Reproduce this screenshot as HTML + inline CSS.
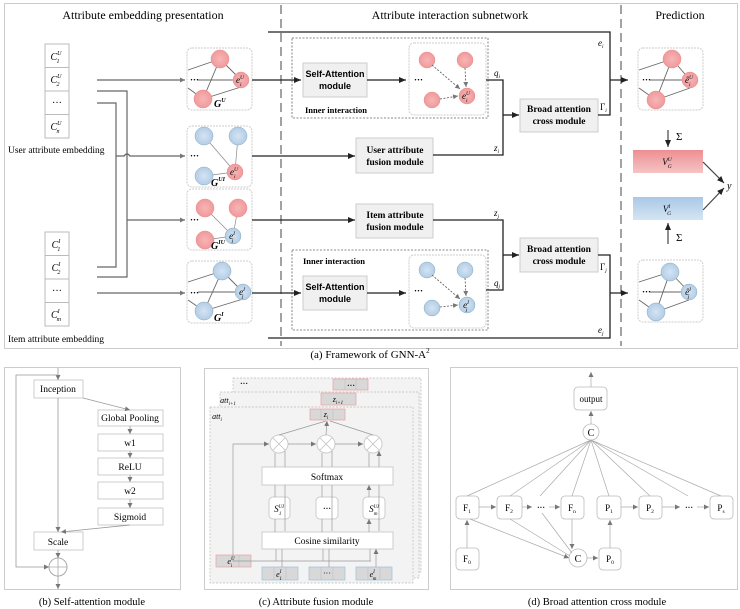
<!DOCTYPE html>
<html><head><meta charset="utf-8"><style>
html,body{margin:0;padding:0;background:#fff}
svg{display:block;font-family:"Liberation Serif",serif}
.s{font-family:"Liberation Sans",sans-serif;font-weight:bold}
.b{font-weight:bold}
</style></head><body>
<svg width="740" height="609" viewBox="0 0 740 609" xmlns="http://www.w3.org/2000/svg">
<defs>
<marker id="a" markerWidth="8" markerHeight="8" refX="7" refY="4" orient="auto" markerUnits="userSpaceOnUse"><path d="M0,1 L7,4 L0,7 z" fill="#222"/></marker>
<marker id="g" markerWidth="6" markerHeight="6" refX="5" refY="3" orient="auto" markerUnits="userSpaceOnUse"><path d="M0,0.5 L5,3 L0,5.5 z" fill="#777"/></marker>
<linearGradient id="rg" x1="0" y1="0" x2="0" y2="1"><stop offset="0" stop-color="#ee8f92"/><stop offset="1" stop-color="#f6c4c4"/></linearGradient>
<linearGradient id="bg" x1="0" y1="0" x2="0" y2="1"><stop offset="0" stop-color="#a9c8e6"/><stop offset="1" stop-color="#d4e5f3"/></linearGradient>
<radialGradient id="rc"><stop offset="0" stop-color="#f7b5b5"/><stop offset="1" stop-color="#ef9a9c"/></radialGradient>
<radialGradient id="bc"><stop offset="0" stop-color="#d4e4f3"/><stop offset="1" stop-color="#b3cde6"/></radialGradient>
</defs>

<rect x="4.5" y="3.5" width="733" height="345" fill="none" stroke="#ccc"/>
<line x1="281" y1="5" x2="281" y2="346" stroke="#444" stroke-dasharray="9,5"/>
<line x1="621" y1="5" x2="621" y2="346" stroke="#444" stroke-dasharray="9,5"/>
<text x="143" y="19" font-size="12" text-anchor="middle">Attribute embedding presentation</text>
<text x="450" y="19" font-size="12" text-anchor="middle">Attribute interaction subnetwork</text>
<text x="680" y="19" font-size="12" text-anchor="middle">Prediction</text>

<g fill="#fff" stroke="#bbb">
<rect x="45" y="44" width="24" height="23.5"/><rect x="45" y="67.5" width="24" height="23.5"/><rect x="45" y="91" width="24" height="23.5"/><rect x="45" y="114.5" width="24" height="23.5"/>
<rect x="45" y="232" width="24" height="23.5"/><rect x="45" y="255.5" width="24" height="23.5"/><rect x="45" y="279" width="24" height="23.5"/><rect x="45" y="302.5" width="24" height="23.5"/>
</g>
<g font-size="10" font-style="italic" text-anchor="middle">
<text x="56" y="60">C<tspan font-size="6" dy="-5">U</tspan><tspan font-size="6" dx="-5" dy="8">1</tspan></text>
<text x="56" y="83">C<tspan font-size="6" dy="-5">U</tspan><tspan font-size="6" dx="-5" dy="8">2</tspan></text>
<text x="57" y="106" font-style="normal">···</text>
<text x="56" y="130">C<tspan font-size="6" dy="-5">U</tspan><tspan font-size="6" dx="-5" dy="8">n</tspan></text>
<text x="56" y="248">C<tspan font-size="6" dy="-5">I</tspan><tspan font-size="6" dx="-3" dy="8">1</tspan></text>
<text x="56" y="271">C<tspan font-size="6" dy="-5">I</tspan><tspan font-size="6" dx="-3" dy="8">2</tspan></text>
<text x="57" y="294" font-style="normal">···</text>
<text x="56" y="318">C<tspan font-size="6" dy="-5">I</tspan><tspan font-size="6" dx="-3" dy="8">m</tspan></text>
</g>
<text x="8" y="153" font-size="9.5">User attribute embedding</text>
<text x="8" y="342" font-size="9.5">Item attribute embedding</text>

<g stroke="#666" stroke-width="1.2" fill="none">
<line x1="97" y1="80" x2="185" y2="80" marker-end="url(#g)"/>
<line x1="97" y1="293" x2="185" y2="293" marker-end="url(#g)"/>
<polyline points="97,91 127,91 127,277 97,277"/>
<polyline points="97,103 116,103 116,267 97,267"/>
<path d="M116,156 L124,156 Q127,152 130,156 L185,156" marker-end="url(#g)"/>
<line x1="127" y1="220" x2="185" y2="220" marker-end="url(#g)"/>
</g>

<g fill="#fff" stroke="#ccc" stroke-dasharray="2,1">
<rect x="187" y="48" width="65" height="62" rx="5"/>
<rect x="187" y="126" width="65" height="61" rx="5"/>
<rect x="187" y="189" width="65" height="61" rx="5"/>
<rect x="187" y="261" width="65" height="62" rx="5"/>
<rect x="409" y="43" width="77" height="72" rx="5"/>
<rect x="409" y="255" width="77" height="73" rx="5"/>
<rect x="638" y="48" width="65" height="62" rx="5"/>
<rect x="638" y="260" width="65" height="62" rx="5"/>
</g>
<g stroke="#666" stroke-width="0.9">
<line x1="188" y1="70" x2="220" y2="59"/><line x1="220" y1="59" x2="241" y2="80"/><line x1="220" y1="59" x2="203" y2="99"/><line x1="203" y1="99" x2="241" y2="87"/><line x1="188" y1="88" x2="203" y2="99"/><line x1="198" y1="80" x2="241" y2="80"/>
<line x1="188" y1="282" x2="222" y2="271"/><line x1="222" y1="271" x2="243" y2="292"/><line x1="222" y1="271" x2="204" y2="311"/><line x1="204" y1="311" x2="243" y2="299"/><line x1="188" y1="300" x2="204" y2="311"/><line x1="198" y1="292" x2="243" y2="292"/>
<line x1="639" y1="70" x2="672" y2="59"/><line x1="672" y1="59" x2="690" y2="80"/><line x1="672" y1="59" x2="656" y2="100"/><line x1="656" y1="100" x2="690" y2="88"/><line x1="639" y1="88" x2="656" y2="100"/><line x1="650" y1="80" x2="690" y2="80"/>
<line x1="639" y1="282" x2="670" y2="272"/><line x1="670" y1="272" x2="689" y2="292"/><line x1="670" y1="272" x2="656" y2="312"/><line x1="656" y1="312" x2="689" y2="300"/><line x1="639" y1="300" x2="656" y2="312"/><line x1="650" y1="292" x2="689" y2="292"/>
</g>
<g stroke="#888" stroke-width="0.7">
<line x1="204" y1="136" x2="235" y2="172"/><line x1="238" y1="136" x2="235" y2="172"/><line x1="204" y1="176" x2="235" y2="172"/>
<line x1="205" y1="208" x2="233" y2="236"/><line x1="238" y1="208" x2="233" y2="236"/><line x1="205" y1="240" x2="233" y2="236"/>
</g>
<g stroke="#e88" stroke-width="0.5" fill="url(#rc)">
<circle cx="220" cy="59" r="9"/><circle cx="203" cy="99" r="9"/><circle cx="241" cy="80" r="8"/>
<circle cx="235" cy="172" r="8"/>
<circle cx="205" cy="208" r="9"/><circle cx="238" cy="208" r="9"/><circle cx="205" cy="240" r="9"/>
<circle cx="427" cy="60" r="8"/><circle cx="465" cy="60" r="8"/><circle cx="432" cy="100" r="8"/><circle cx="467" cy="96" r="8"/>
<circle cx="672" cy="59" r="9"/><circle cx="656" cy="100" r="9"/><circle cx="690" cy="80" r="8"/>
</g>
<g stroke="#8ab" stroke-width="0.5" fill="url(#bc)">
<circle cx="204" cy="136" r="9"/><circle cx="238" cy="136" r="9"/><circle cx="204" cy="176" r="9"/>
<circle cx="233" cy="236" r="8"/>
<circle cx="222" cy="271" r="9"/><circle cx="204" cy="311" r="9"/><circle cx="243" cy="292" r="8"/>
<circle cx="427" cy="270" r="8"/><circle cx="465" cy="270" r="8"/><circle cx="432" cy="308" r="8"/><circle cx="467" cy="305" r="8"/>
<circle cx="670" cy="272" r="9"/><circle cx="656" cy="312" r="9"/><circle cx="689" cy="292" r="8"/>
</g>
<g stroke="#555" stroke-width="0.8" stroke-dasharray="2,1.5" fill="none">
<line x1="432" y1="65" x2="460" y2="89" marker-end="url(#g)"/><line x1="465" y1="68" x2="466" y2="87" marker-end="url(#g)"/><line x1="440" y1="99" x2="458" y2="96" marker-end="url(#g)"/>
<line x1="432" y1="275" x2="460" y2="299" marker-end="url(#g)"/><line x1="465" y1="278" x2="466" y2="296" marker-end="url(#g)"/><line x1="440" y1="307" x2="458" y2="305" marker-end="url(#g)"/>
</g>
<g font-size="9" font-weight="bold">
<text x="190" y="83">···</text><text x="190" y="159">···</text><text x="190" y="223">···</text><text x="190" y="296">···</text>
<text x="414" y="83">···</text><text x="414" y="294">···</text><text x="642" y="83">···</text><text x="642" y="295">···</text>
</g>
<g font-size="9" font-style="italic" text-anchor="middle">
<text x="240" y="83">e<tspan font-size="5.5" dy="-4">U</tspan><tspan font-size="5.5" dx="-4" dy="7">i</tspan></text>
<text x="234" y="175">e<tspan font-size="5.5" dy="-4">U</tspan><tspan font-size="5.5" dx="-4" dy="7">i</tspan></text>
<text x="232" y="239">e<tspan font-size="5.5" dy="-4">I</tspan><tspan font-size="5.5" dx="-3" dy="7">j</tspan></text>
<text x="242" y="295">e<tspan font-size="5.5" dy="-4">I</tspan><tspan font-size="5.5" dx="-3" dy="7">j</tspan></text>
<text x="466" y="99">e<tspan font-size="5.5" dy="-4">U</tspan><tspan font-size="5.5" dx="-4" dy="7">i</tspan></text>
<text x="466" y="308">e<tspan font-size="5.5" dy="-4">I</tspan><tspan font-size="5.5" dx="-3" dy="7">j</tspan></text>
<text x="689" y="83">ê<tspan font-size="5.5" dy="-4">U</tspan><tspan font-size="5.5" dx="-4" dy="7">i</tspan></text>
<text x="688" y="295">ê<tspan font-size="5.5" dy="-4">I</tspan><tspan font-size="5.5" dx="-3" dy="7">j</tspan></text>
</g>
<g font-size="10" font-style="italic" font-weight="bold">
<text x="214" y="107">G<tspan font-size="6" dy="-5">U</tspan></text>
<text x="211" y="186">G<tspan font-size="6" dy="-5">UI</tspan></text>
<text x="211" y="249">G<tspan font-size="6" dy="-5">IU</tspan></text>
<text x="214" y="321">G<tspan font-size="6" dy="-5">I</tspan></text>
</g>

<rect x="292" y="38" width="196" height="80" fill="none" stroke="#666" stroke-dasharray="2,1.5" stroke-width="0.8"/>
<rect x="292" y="250" width="196" height="80" fill="none" stroke="#666" stroke-dasharray="2,1.5" stroke-width="0.8"/>
<text x="305" y="113" font-size="8.5" class="b">Inner interaction</text>
<text x="303" y="264" font-size="8.5" class="b">Inner interaction</text>
<g fill="#f0f0f0" stroke="#ccc">
<rect x="303" y="63" width="64" height="34"/><rect x="303" y="276" width="64" height="34"/>
<rect x="356" y="138" width="77" height="35"/><rect x="356" y="204" width="77" height="34"/>
<rect x="520" y="99" width="78" height="33"/><rect x="520" y="238" width="78" height="34"/>
</g>
<g font-size="9" text-anchor="middle" class="s">
<text x="335" y="77">Self-Attention</text><text x="335" y="89">module</text>
<text x="335" y="290">Self-Attention</text><text x="335" y="302">module</text>
</g>
<g font-size="9.5" text-anchor="middle" class="b">
<text x="395" y="153">User attribute</text><text x="395" y="165">fusion module</text>
<text x="395" y="218">Item attribute</text><text x="395" y="230">fusion module</text>
<text x="559" y="112">Broad attention</text><text x="559" y="124">cross module</text>
<text x="559" y="252">Broad attention</text><text x="559" y="264">cross module</text>
</g>

<g stroke="#222" stroke-width="1.3" fill="none">
<line x1="252" y1="80" x2="301" y2="80" marker-end="url(#a)"/>
<line x1="367" y1="80" x2="406" y2="80" marker-end="url(#a)"/>
<line x1="252" y1="156" x2="355" y2="156" marker-end="url(#a)"/>
<line x1="252" y1="220" x2="355" y2="220" marker-end="url(#a)"/>
<line x1="252" y1="293" x2="301" y2="293" marker-end="url(#a)"/>
<line x1="367" y1="293" x2="406" y2="293" marker-end="url(#a)"/>
<polyline points="486,80 503,80 503,155 433,155"/>
<line x1="503" y1="115" x2="519" y2="115" marker-end="url(#a)"/>
<polyline points="486,290 503,290 503,220 433,220"/>
<line x1="503" y1="255" x2="519" y2="255" marker-end="url(#a)"/>
<polyline points="268,32 610,32 610,115 598,115"/>
<polyline points="268,338 610,338 610,255 598,255"/>
<line x1="610" y1="80" x2="628" y2="80" marker-end="url(#a)"/>
<line x1="610" y1="293" x2="628" y2="293" marker-end="url(#a)"/>
</g>
<g font-size="9" font-style="italic">
<text x="598" y="46">e<tspan font-size="5.5" dy="2">i</tspan></text>
<text x="494" y="76">q<tspan font-size="5.5" dy="2">i</tspan></text>
<text x="494" y="151">z<tspan font-size="5.5" dy="2">i</tspan></text>
<text x="494" y="216">z<tspan font-size="5.5" dy="2">j</tspan></text>
<text x="494" y="286">q<tspan font-size="5.5" dy="2">j</tspan></text>
<text x="598" y="333">e<tspan font-size="5.5" dy="2">j</tspan></text>
<text x="600" y="110" font-style="normal">Γ<tspan font-size="5.5" dy="2" font-style="italic">i</tspan></text>
<text x="600" y="270" font-style="normal">Γ<tspan font-size="5.5" dy="2" font-style="italic">j</tspan></text>
</g>

<rect x="633" y="150" width="70" height="23" fill="url(#rg)"/>
<rect x="633" y="197" width="70" height="23" fill="url(#bg)"/>
<g font-size="9" font-style="italic" text-anchor="middle">
<text x="667" y="165">V<tspan font-size="5.5" dy="-4">U</tspan><tspan font-size="5.5" dx="-4" dy="7">G</tspan></text>
<text x="667" y="212">V<tspan font-size="5.5" dy="-4">I</tspan><tspan font-size="5.5" dx="-3" dy="7">G</tspan></text>
</g>
<g stroke="#444" stroke-width="1.2" fill="none">
<line x1="668" y1="130" x2="668" y2="147" marker-end="url(#a)"/>
<line x1="668" y1="244" x2="668" y2="223" marker-end="url(#a)"/>
<line x1="703" y1="162" x2="724" y2="183" marker-end="url(#a)"/>
<line x1="703" y1="210" x2="724" y2="188" marker-end="url(#a)"/>
</g>
<text x="676" y="140" font-size="11">Σ</text>
<text x="676" y="241" font-size="11">Σ</text>
<text x="727" y="189" font-size="10" font-style="italic">y</text>
<text x="370" y="358" font-size="11" text-anchor="middle">(a) Framework of GNN-A<tspan font-size="7" dy="-5">2</tspan></text>

<rect x="4.5" y="367.5" width="176" height="222" fill="none" stroke="#ccc"/>
<g fill="#fff" stroke="#ccc">
<rect x="34" y="380" width="49" height="18"/>
<rect x="98" y="410" width="65" height="16"/><rect x="98" y="434" width="65" height="17"/>
<rect x="98" y="458" width="65" height="17"/><rect x="98" y="482" width="65" height="17"/>
<rect x="98" y="508" width="65" height="17"/><rect x="34" y="532" width="49" height="18"/>
</g>
<circle cx="58" cy="567" r="9" fill="#fff" stroke="#aaa"/>
<g stroke="#aaa" stroke-width="0.8"><line x1="49" y1="567" x2="67" y2="567"/><line x1="58" y1="558" x2="58" y2="576"/></g>
<g stroke="#999" stroke-width="0.8" fill="none">
<line x1="58" y1="368" x2="58" y2="380" marker-end="url(#g)"/>
<polyline points="58,375 16,375 16,567 49,567" marker-end="url(#g)"/>
<line x1="83" y1="398" x2="130" y2="410" marker-end="url(#g)"/>
<line x1="130" y1="426" x2="130" y2="434" marker-end="url(#g)"/>
<line x1="130" y1="451" x2="130" y2="458" marker-end="url(#g)"/>
<line x1="130" y1="475" x2="130" y2="482" marker-end="url(#g)"/>
<line x1="130" y1="499" x2="130" y2="508" marker-end="url(#g)"/>
<line x1="58" y1="398" x2="58" y2="532" marker-end="url(#g)"/>
<line x1="130" y1="525" x2="61" y2="532" marker-end="url(#g)"/>
<line x1="58" y1="550" x2="58" y2="558" marker-end="url(#g)"/>
<line x1="58" y1="576" x2="58" y2="589" marker-end="url(#g)"/>
</g>
<g font-size="9.5" text-anchor="middle">
<text x="58" y="392">Inception</text><text x="130" y="421">Global Pooling</text>
<text x="130" y="446">w1</text><text x="130" y="470">ReLU</text><text x="130" y="494">w2</text>
<text x="130" y="520">Sigmoid</text><text x="58" y="545">Scale</text>
</g>
<text x="92" y="605" font-size="10.5" text-anchor="middle">(b) Self-attention module</text>

<rect x="204.5" y="368.5" width="224" height="221" fill="none" stroke="#ccc"/>
<g fill="#f3f3f3" stroke="#bbb" stroke-dasharray="2,1.5" stroke-width="0.7">
<rect x="233" y="378" width="188" height="194"/>
<rect x="220" y="392" width="199" height="186"/>
<rect x="210" y="407" width="203" height="176"/>
</g>
<g fill="#d8d8d8" stroke="#e9a0a0" stroke-width="0.7">
<rect x="333" y="379" width="35" height="11"/><rect x="321" y="393" width="35" height="12"/>
<rect x="310" y="409" width="35" height="11"/><rect x="216" y="555" width="35" height="12"/>
</g>
<g fill="#d8d8d8" stroke="#9cc0e0" stroke-width="0.7">
<rect x="262" y="567" width="36" height="13"/><rect x="309" y="567" width="36" height="13"/><rect x="356" y="567" width="36" height="13"/>
</g>
<g stroke="#bbb" stroke-width="0.5">
<line x1="345" y1="379" x2="345" y2="390"/><line x1="356" y1="379" x2="356" y2="390"/>
<line x1="321" y1="409" x2="321" y2="420"/><line x1="333" y1="409" x2="333" y2="420"/>
<line x1="239" y1="555" x2="239" y2="567"/>
<line x1="274" y1="567" x2="274" y2="580"/><line x1="286" y1="567" x2="286" y2="580"/>
<line x1="321" y1="567" x2="321" y2="580"/><line x1="333" y1="567" x2="333" y2="580"/>
<line x1="368" y1="567" x2="368" y2="580"/><line x1="380" y1="567" x2="380" y2="580"/>
</g>
<g font-size="8" font-style="italic" text-anchor="middle">
<text x="244" y="386" font-style="normal" font-weight="bold">···</text>
<text x="351" y="388" font-style="normal" font-weight="bold">···</text>
<text x="228" y="403">att<tspan font-size="5" dy="2">i+1</tspan></text>
<text x="338" y="402">z<tspan font-size="5" dy="2">i+1</tspan></text>
<text x="217" y="419">att<tspan font-size="5" dy="2">i</tspan></text>
<text x="326" y="417">z<tspan font-size="5" dy="2">i</tspan></text>
<text x="231" y="564">e<tspan font-size="5" dy="-4">U</tspan><tspan font-size="5" dx="-4" dy="7">i</tspan></text>
<text x="279" y="577">e<tspan font-size="5" dy="-4">I</tspan><tspan font-size="5" dx="-2" dy="7">1</tspan></text>
<text x="327" y="576" font-style="normal">···</text>
<text x="373" y="577">e<tspan font-size="5" dy="-4">I</tspan><tspan font-size="5" dx="-2" dy="7">m</tspan></text>
</g>
<g fill="#fff" stroke="#ccc">
<rect x="262" y="467" width="131" height="18"/><rect x="262" y="532" width="131" height="17"/>
<rect x="269" y="497" width="21" height="22" rx="4"/><rect x="316" y="497" width="22" height="22" rx="4"/><rect x="363" y="497" width="22" height="22" rx="4"/>
<circle cx="279" cy="444" r="9"/><circle cx="326" cy="444" r="9"/><circle cx="373" cy="444" r="9"/>
</g>
<g stroke="#bbb" stroke-width="0.7">
<path d="M273,438 L285,450 M285,438 L273,450 M320,438 L332,450 M332,438 L320,450 M367,438 L379,450 M379,438 L367,450"/>
</g>
<g font-size="9.5" text-anchor="middle">
<text x="327" y="480">Softmax</text><text x="327" y="544">Cosine similarity</text>
<text x="327" y="511" font-weight="bold" font-size="8">···</text>
<text x="279" y="512" font-size="9" font-style="italic">S<tspan font-size="5" dy="-4">UI</tspan><tspan font-size="5" dx="-5" dy="7">1</tspan></text>
<text x="374" y="512" font-size="9" font-style="italic">S<tspan font-size="5" dy="-4">UI</tspan><tspan font-size="5" dx="-5" dy="7">m</tspan></text>
</g>
<g stroke="#999" stroke-width="0.7" fill="none">
<polyline points="251,561 233,561 233,444 269,444" marker-end="url(#g)"/>
<line x1="251" y1="561" x2="371" y2="561"/>
<line x1="288" y1="444" x2="316" y2="444" marker-end="url(#g)"/>
<line x1="335" y1="444" x2="363" y2="444" marker-end="url(#g)"/>
<line x1="279" y1="435" x2="326" y2="421"/><line x1="373" y1="435" x2="330" y2="421"/><line x1="326" y1="435" x2="327" y2="421" marker-end="url(#g)"/>
<path d="M275,467V453 M285,467V451 M322,467V453 M332,467V451 M369,467V453 M379,467V451" marker-end="url(#g)"/>
<path d="M275,497V485 M322,497V485 M369,497V485" marker-end="url(#g)"/>
<path d="M285,531V485 M332,531V485 M379,531V485"/>
<path d="M275,532V519 M322,532V519 M369,532V519" marker-end="url(#g)"/>
<path d="M276,561V549 M282,567V549 M323,561V549 M329,567V549 M370,561V549 M376,567V549" marker-end="url(#g)"/>
</g>
<text x="316" y="605" font-size="10.5" text-anchor="middle">(c) Attribute fusion module</text>

<rect x="450.5" y="367.5" width="287" height="222" fill="none" stroke="#ccc"/>
<g fill="#fff" stroke="#bbb" stroke-width="0.8">
<rect x="574" y="387" width="33" height="23" rx="4"/>
<circle cx="591" cy="432" r="8"/>
<rect x="456" y="496" width="23" height="23" rx="4"/><rect x="497" y="496" width="25" height="23" rx="4"/>
<rect x="561" y="496" width="23" height="23" rx="4"/><rect x="597" y="496" width="24" height="23" rx="4"/>
<rect x="639" y="496" width="23" height="23" rx="4"/><rect x="710" y="496" width="23" height="23" rx="4"/>
<rect x="456" y="548" width="23" height="22" rx="4"/><rect x="599" y="548" width="22" height="22" rx="4"/>
<circle cx="578" cy="558" r="9"/>
</g>
<g stroke="#aaa" stroke-width="0.7" fill="none">
<line x1="591" y1="387" x2="591" y2="372" marker-end="url(#g)"/>
<line x1="591" y1="424" x2="591" y2="411" marker-end="url(#g)"/>
<path d="M591,440 L467,496 M591,440 L510,496 M591,440 L540,496 M591,440 L572,496 M591,440 L609,496 M591,440 L650,496 M591,440 L688,496 M591,440 L721,496"/>
<line x1="467" y1="548" x2="467" y2="520" marker-end="url(#g)"/>
<line x1="479" y1="507" x2="496" y2="507" marker-end="url(#g)"/>
<line x1="522" y1="507" x2="532" y2="507" marker-end="url(#g)"/>
<line x1="549" y1="507" x2="560" y2="507" marker-end="url(#g)"/>
<line x1="621" y1="507" x2="638" y2="507" marker-end="url(#g)"/>
<line x1="662" y1="507" x2="680" y2="507" marker-end="url(#g)"/>
<line x1="697" y1="507" x2="709" y2="507" marker-end="url(#g)"/>
<line x1="572" y1="519" x2="572" y2="549" marker-end="url(#g)"/>
<line x1="587" y1="558" x2="598" y2="558" marker-end="url(#g)"/>
<line x1="610" y1="548" x2="610" y2="520" marker-end="url(#g)"/>
<line x1="470" y1="519" x2="569" y2="558" marker-end="url(#g)"/>
<line x1="510" y1="519" x2="570" y2="556"/>
<line x1="542" y1="513" x2="572" y2="553"/>
</g>
<g font-size="9" text-anchor="middle">
<text x="591" y="402">output</text>
<text x="591" y="436" font-size="10">C</text>
<text x="578" y="562" font-size="10">C</text>
<text x="467" y="511">F<tspan font-size="5.5" dy="2">1</tspan></text>
<text x="509" y="511">F<tspan font-size="5.5" dy="2">2</tspan></text>
<text x="572" y="511">F<tspan font-size="5.5" dy="2">n</tspan></text>
<text x="609" y="511">P<tspan font-size="5.5" dy="2">1</tspan></text>
<text x="650" y="511">P<tspan font-size="5.5" dy="2">2</tspan></text>
<text x="721" y="511">P<tspan font-size="5.5" dy="2">s</tspan></text>
<text x="467" y="562">F<tspan font-size="5.5" dy="2">0</tspan></text>
<text x="610" y="562">P<tspan font-size="5.5" dy="2">0</tspan></text>
<text x="541" y="510" font-weight="bold" font-size="8">···</text>
<text x="689" y="510" font-weight="bold" font-size="8">···</text>
</g>
<text x="597" y="605" font-size="10.5" text-anchor="middle">(d) Broad attention cross module</text>
</svg>
</body></html>
